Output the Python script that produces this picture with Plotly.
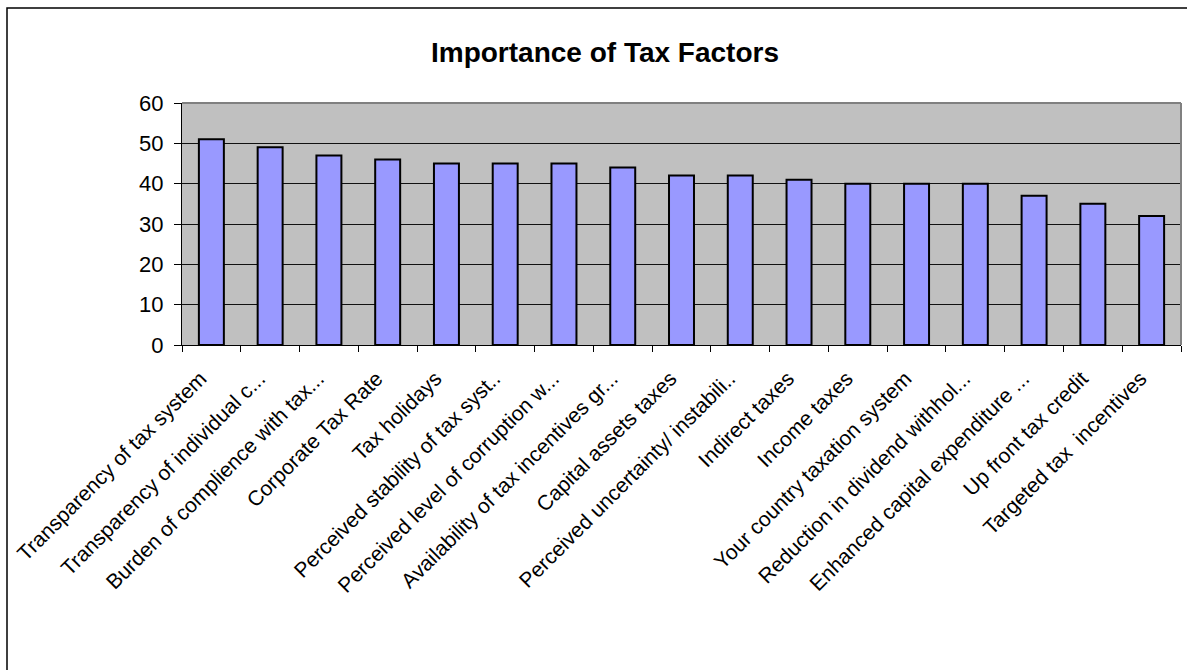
import plotly.graph_objects as go

categories = [
    "Transparency of tax system",
    "Transparency of individual c...",
    "Burden of complience with tax...",
    "Corporate Tax Rate",
    "Tax holidays",
    "Perceived stability of tax syst..",
    "Perceived level of corruption w...",
    "Availability of tax incentives gr...",
    "Capital assets taxes",
    "Perceived uncertainty/ instabili..",
    "Indirect taxes",
    "Income taxes",
    "Your country taxation system",
    "Reduction in dividend withhol...",
    "Enhanced capital expenditure ...",
    "Up front tax credit",
    "Targeted tax \u00a0incentives",
]
values = [51, 49, 47, 46, 45, 45, 45, 44, 42, 42, 41, 40, 40, 40, 37, 35, 32]
y_ticks = [0, 10, 20, 30, 40, 50, 60]

W, H = 1187, 670
L, R, T, B = 182, 6, 103, 325
pw, ph = W - L - R, H - T - B

def px_x(p):
    return (p - L) / pw

def px_y(p):
    return (H - B - p) / ph

FONT = "Liberation Sans, Arial, sans-serif"

fig = go.Figure()
fig.add_trace(go.Bar(
    x=categories, y=values,
    marker=dict(color="#9999FF", line=dict(color="#000000", width=2)),
))

fig.update_layout(
    width=W, height=H,
    margin=dict(l=L, r=R, t=T, b=B),
    paper_bgcolor="white",
    plot_bgcolor="#C0C0C0",
    bargap=0.575,
    showlegend=False,
    font=dict(family=FONT, color="#000000"),
    title=dict(
        text="<b>Importance of Tax Factors</b>",
        x=605 / W, xref="container", xanchor="center",
        y=1 - 52 / H, yref="container", yanchor="middle",
        font=dict(size=28, family=FONT, color="#000000"),
    ),
    xaxis=dict(
        type="category",
        tickangle=-45,
        tickson="boundaries",
        ticks="outside", ticklen=6, tickcolor="#000000", tickwidth=1,
        showline=True, linecolor="#000000", linewidth=1,
        showgrid=False,
        ticklabelstandoff=12,
        ticklabelshift=-11,
        tickfont=dict(size=21, family=FONT, color="#000000"),
    ),
    yaxis=dict(
        range=[0, 60],
        tickvals=y_ticks,
        ticks="outside", ticklen=7, tickcolor="#000000", tickwidth=1,
        showline=True, linecolor="#000000", linewidth=1,
        showgrid=True, gridcolor="#111111", gridwidth=1,
        zeroline=False,
        ticklabelstandoff=6,
        tickfont=dict(size=22, family=FONT, color="#000000"),
    ),
    shapes=[
        dict(type="line", xref="paper", yref="paper", x0=0, x1=1, y0=1, y1=1,
             line=dict(color="#808080", width=2)),
        dict(type="line", xref="paper", yref="paper", x0=1, x1=1, y0=0, y1=1,
             line=dict(color="#808080", width=2)),
        dict(type="rect", xref="paper", yref="paper",
             x0=px_x(7), x1=px_x(1200), y0=px_y(8), y1=px_y(690),
             line=dict(color="#000000", width=1.5), layer="below"),
    ],
)

fig.write_html("out.html")
